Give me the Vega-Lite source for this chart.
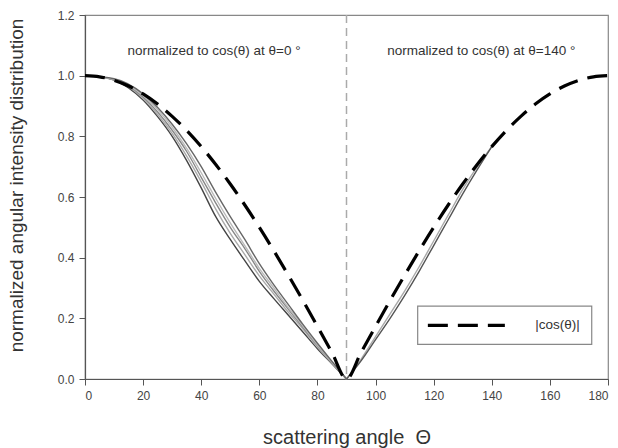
{
  "$schema": "https://vega.github.io/schema/vega-lite/v6.json",
  "width": 523,
  "height": 364,
  "autosize": "none",
  "padding": {"left": 85, "top": 15, "right": 10, "bottom": 69},
  "background": "white",
  "config": {
    "font": "Liberation Sans",
    "view": {"stroke": "#888", "strokeWidth": 1.2},
    "axis": {"grid": false, "domainColor": "#555", "tickColor": "#555", "labelColor": "#444", "labelFontSize": 12, "titleColor": "#333", "titleFontWeight": "normal", "domainWidth": 1.2}
  },
  "datasets": {
    "curves": [
      {"series": "g1", "theta": 0, "value": 1}, {"series": "g1", "theta": 5, "value": 0.997}, {"series": "g1", "theta": 10, "value": 0.985}, {"series": "g1", "theta": 15, "value": 0.96}, {"series": "g1", "theta": 20, "value": 0.92}, {"series": "g1", "theta": 25, "value": 0.865}, {"series": "g1", "theta": 30, "value": 0.8}, {"series": "g1", "theta": 35, "value": 0.72}, {"series": "g1", "theta": 40, "value": 0.63}, {"series": "g1", "theta": 45, "value": 0.535}, {"series": "g1", "theta": 50, "value": 0.46}, {"series": "g1", "theta": 55, "value": 0.39}, {"series": "g1", "theta": 60, "value": 0.322}, {"series": "g1", "theta": 65, "value": 0.265}, {"series": "g1", "theta": 70, "value": 0.21}, {"series": "g1", "theta": 75, "value": 0.155}, {"series": "g1", "theta": 80, "value": 0.1}, {"series": "g1", "theta": 85, "value": 0.05}, {"series": "g1", "theta": 90, "value": 0},
      {"series": "g2", "theta": 0, "value": 1}, {"series": "g2", "theta": 10, "value": 0.986}, {"series": "g2", "theta": 20, "value": 0.925}, {"series": "g2", "theta": 25, "value": 0.872}, {"series": "g2", "theta": 30, "value": 0.81}, {"series": "g2", "theta": 35, "value": 0.735}, {"series": "g2", "theta": 40, "value": 0.65}, {"series": "g2", "theta": 45, "value": 0.56}, {"series": "g2", "theta": 50, "value": 0.48}, {"series": "g2", "theta": 55, "value": 0.41}, {"series": "g2", "theta": 60, "value": 0.34}, {"series": "g2", "theta": 65, "value": 0.28}, {"series": "g2", "theta": 70, "value": 0.22}, {"series": "g2", "theta": 75, "value": 0.165}, {"series": "g2", "theta": 80, "value": 0.105}, {"series": "g2", "theta": 85, "value": 0.052}, {"series": "g2", "theta": 90, "value": 0},
      {"series": "g3", "theta": 0, "value": 1}, {"series": "g3", "theta": 10, "value": 0.987}, {"series": "g3", "theta": 20, "value": 0.93}, {"series": "g3", "theta": 25, "value": 0.88}, {"series": "g3", "theta": 30, "value": 0.82}, {"series": "g3", "theta": 35, "value": 0.75}, {"series": "g3", "theta": 40, "value": 0.665}, {"series": "g3", "theta": 45, "value": 0.58}, {"series": "g3", "theta": 50, "value": 0.5}, {"series": "g3", "theta": 55, "value": 0.43}, {"series": "g3", "theta": 60, "value": 0.355}, {"series": "g3", "theta": 65, "value": 0.29}, {"series": "g3", "theta": 70, "value": 0.23}, {"series": "g3", "theta": 75, "value": 0.17}, {"series": "g3", "theta": 80, "value": 0.11}, {"series": "g3", "theta": 85, "value": 0.055}, {"series": "g3", "theta": 90, "value": 0},
      {"series": "g4", "theta": 0, "value": 1}, {"series": "g4", "theta": 10, "value": 0.988}, {"series": "g4", "theta": 20, "value": 0.935}, {"series": "g4", "theta": 25, "value": 0.888}, {"series": "g4", "theta": 30, "value": 0.83}, {"series": "g4", "theta": 35, "value": 0.76}, {"series": "g4", "theta": 40, "value": 0.68}, {"series": "g4", "theta": 45, "value": 0.595}, {"series": "g4", "theta": 50, "value": 0.515}, {"series": "g4", "theta": 55, "value": 0.44}, {"series": "g4", "theta": 60, "value": 0.365}, {"series": "g4", "theta": 65, "value": 0.3}, {"series": "g4", "theta": 70, "value": 0.235}, {"series": "g4", "theta": 75, "value": 0.175}, {"series": "g4", "theta": 80, "value": 0.113}, {"series": "g4", "theta": 85, "value": 0.056}, {"series": "g4", "theta": 90, "value": 0},
      {"series": "g5", "theta": 0, "value": 1}, {"series": "g5", "theta": 10, "value": 0.99}, {"series": "g5", "theta": 20, "value": 0.94}, {"series": "g5", "theta": 25, "value": 0.895}, {"series": "g5", "theta": 30, "value": 0.84}, {"series": "g5", "theta": 35, "value": 0.775}, {"series": "g5", "theta": 40, "value": 0.7}, {"series": "g5", "theta": 45, "value": 0.615}, {"series": "g5", "theta": 50, "value": 0.535}, {"series": "g5", "theta": 55, "value": 0.46}, {"series": "g5", "theta": 60, "value": 0.38}, {"series": "g5", "theta": 65, "value": 0.31}, {"series": "g5", "theta": 70, "value": 0.245}, {"series": "g5", "theta": 75, "value": 0.18}, {"series": "g5", "theta": 80, "value": 0.118}, {"series": "g5", "theta": 85, "value": 0.058}, {"series": "g5", "theta": 90, "value": 0},
      {"series": "r2", "theta": 90, "value": 0}, {"series": "r2", "theta": 95, "value": 0.065}, {"series": "r2", "theta": 100, "value": 0.14}, {"series": "r2", "theta": 105, "value": 0.215}, {"series": "r2", "theta": 110, "value": 0.29}, {"series": "r2", "theta": 115, "value": 0.37}, {"series": "r2", "theta": 120, "value": 0.455}, {"series": "r2", "theta": 125, "value": 0.54}, {"series": "r2", "theta": 130, "value": 0.625}, {"series": "r2", "theta": 135, "value": 0.7}, {"series": "r2", "theta": 140, "value": 0.766},
      {"series": "r1", "theta": 90, "value": 0}, {"series": "r1", "theta": 95, "value": 0.06}, {"series": "r1", "theta": 100, "value": 0.13}, {"series": "r1", "theta": 105, "value": 0.2}, {"series": "r1", "theta": 110, "value": 0.275}, {"series": "r1", "theta": 115, "value": 0.355}, {"series": "r1", "theta": 120, "value": 0.44}, {"series": "r1", "theta": 125, "value": 0.525}, {"series": "r1", "theta": 130, "value": 0.61}, {"series": "r1", "theta": 135, "value": 0.69}, {"series": "r1", "theta": 140, "value": 0.766}
    ],
    "cosine": [
      {"theta": 0, "value": 1}, {"theta": 5, "value": 0.9962}, {"theta": 10, "value": 0.9848}, {"theta": 15, "value": 0.9659}, {"theta": 20, "value": 0.9397}, {"theta": 25, "value": 0.9063}, {"theta": 30, "value": 0.866}, {"theta": 35, "value": 0.8192}, {"theta": 40, "value": 0.766}, {"theta": 45, "value": 0.7071}, {"theta": 50, "value": 0.6428}, {"theta": 55, "value": 0.5736}, {"theta": 60, "value": 0.5}, {"theta": 65, "value": 0.4226}, {"theta": 70, "value": 0.342}, {"theta": 75, "value": 0.2588}, {"theta": 80, "value": 0.1736}, {"theta": 85, "value": 0.0872}, {"theta": 90, "value": 0},
      {"theta": 95, "value": 0.0872}, {"theta": 100, "value": 0.1736}, {"theta": 105, "value": 0.2588}, {"theta": 110, "value": 0.342}, {"theta": 115, "value": 0.4226}, {"theta": 120, "value": 0.5}, {"theta": 125, "value": 0.5736}, {"theta": 130, "value": 0.6428}, {"theta": 135, "value": 0.7071}, {"theta": 140, "value": 0.766}, {"theta": 145, "value": 0.8192}, {"theta": 150, "value": 0.866}, {"theta": 155, "value": 0.9063}, {"theta": 160, "value": 0.9397}, {"theta": 165, "value": 0.9659}, {"theta": 170, "value": 0.9848}, {"theta": 175, "value": 0.9962}, {"theta": 180, "value": 1}
    ]
  },
  "encoding": {
    "x": {"type": "quantitative", "scale": {"domain": [0, 180], "nice": false}, "axis": {"values": [0, 20, 40, 60, 80, 100, 120, 140, 160, 180], "title": "scattering angle\u00a0\u00a0Θ", "titleFontSize": 20, "titleBaseline": "alphabetic", "titleY": 64, "tickSize": 6, "labelPadding": 5}},
    "y": {"type": "quantitative", "scale": {"domain": [0, 1.2], "nice": false}, "axis": {"values": [0, 0.2, 0.4, 0.6, 0.8, 1.0, 1.2], "format": ".1f", "title": "normalized angular intensity distribution", "titleFontSize": 19, "titleX": -59, "titleY": 170, "tickSize": 6, "labelPadding": 5}}
  },
  "layer": [
    {
      "data": {"values": [{"theta": 90}]},
      "mark": {"type": "rule", "color": "#aaa", "strokeWidth": 1.5, "strokeDash": [8, 5]},
      "encoding": {"x": {"field": "theta", "type": "quantitative"}}
    },
    {
      "data": {"name": "curves"},
      "mark": {"type": "line", "interpolate": "monotone", "strokeWidth": 1.4},
      "encoding": {
        "x": {"field": "theta", "type": "quantitative"},
        "y": {"field": "value", "type": "quantitative"},
        "color": {"field": "series", "type": "nominal", "legend": null, "scale": {"domain": ["g1", "g2", "g3", "g4", "g5", "r2", "r1"], "range": ["#444", "#aaa", "#888", "#bbb", "#666", "#aaa", "#555"]}}
      }
    },
    {
      "data": {"name": "cosine"},
      "mark": {"type": "line", "interpolate": "monotone", "color": "black", "strokeWidth": 3.2, "strokeDash": [20, 10]},
      "encoding": {
        "x": {"field": "theta", "type": "quantitative"},
        "y": {"field": "value", "type": "quantitative"}
      }
    },
    {
      "data": {"values": [{"x1": 114.5, "x2": 174.4, "y1": 0.114, "y2": 0.24}]},
      "mark": {"type": "rect", "fill": "white", "stroke": "#888", "strokeWidth": 1.2},
      "encoding": {
        "x": {"field": "x1", "type": "quantitative"},
        "x2": {"field": "x2"},
        "y": {"field": "y1", "type": "quantitative"},
        "y2": {"field": "y2"}
      }
    },
    {
      "data": {"values": [{"theta": 118, "value": 0.177}, {"theta": 144.5, "value": 0.177}]},
      "mark": {"type": "line", "color": "black", "strokeWidth": 3.2, "strokeDash": [20, 10]},
      "encoding": {
        "x": {"field": "theta", "type": "quantitative"},
        "y": {"field": "value", "type": "quantitative"}
      }
    },
    {
      "data": {"values": [
        {"theta": 44.4, "value": 1.08, "label": "normalized to cos(θ) at θ=0 °"},
        {"theta": 136.4, "value": 1.08, "label": "normalized to cos(θ) at θ=140 °"},
        {"theta": 162.6, "value": 0.177, "label": "|cos(θ)|"}
      ]},
      "mark": {"type": "text", "color": "#333", "align": "center", "baseline": "middle", "fontSize": 13.5},
      "encoding": {
        "x": {"field": "theta", "type": "quantitative"},
        "y": {"field": "value", "type": "quantitative"},
        "text": {"field": "label"}
      }
    }
  ]
}
